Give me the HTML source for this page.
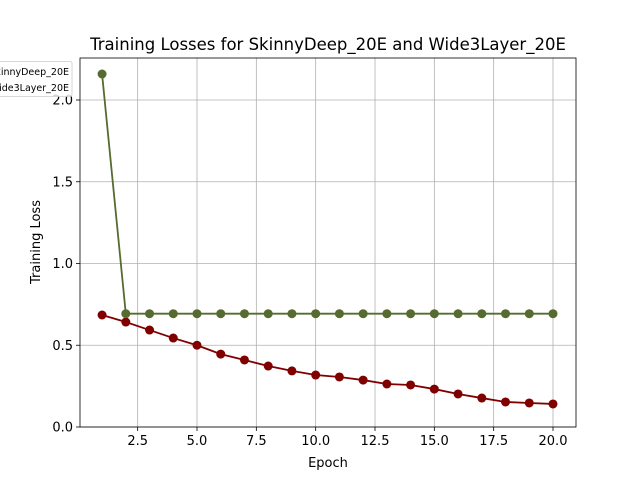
<!DOCTYPE html>
<html><head><meta charset="utf-8"><style>
body{margin:0;background:#fff}
svg{display:block;font-family:"DejaVu Sans","Liberation Sans",sans-serif}
</style></head><body>
<svg id="c" width="640" height="480" xmlns="http://www.w3.org/2000/svg"></svg>
<script>
const epochs=[1,2,3,4,5,6,7,8,9,10,11,12,13,14,15,16,17,18,19,20];
const skinnyLoss=[0.685,0.642,0.593,0.544,0.50,0.446,0.41,0.373,0.343,0.318,0.306,0.287,0.263,0.257,0.232,0.202,0.177,0.153,0.147,0.141];
const wideLoss=[2.159,0.693,0.693,0.693,0.693,0.693,0.693,0.693,0.693,0.693,0.693,0.693,0.693,0.693,0.693,0.693,0.693,0.693,0.693,0.693];
const xTicks=[2.5,5.0,7.5,10.0,12.5,15.0,17.5,20.0];
const yTicks=[0.0,0.5,1.0,1.5,2.0];
const NS="http://www.w3.org/2000/svg";
const svg=document.getElementById('c');
const L=80,R=576,T=58,B=427;
const xs=v=>197+(v-5)*(553-197)/15;
const ys=v=>427-v*163.5;
function mk(t,a,p){const e=document.createElementNS(NS,t);for(const k in a)e.setAttribute(k,a[k]);(p||svg).appendChild(e);return e;}
const grid=mk('g',{});


xTicks.forEach(v=>{const x=xs(v);
 mk('line',{x1:x,x2:x,y1:T,y2:B,stroke:'#b0b0b0','stroke-width':0.8},grid);
 mk('line',{x1:x,x2:x,y1:B,y2:B+4,stroke:'#000','stroke-width':0.8});
 const t=mk('text',{x:x,y:B+18,'text-anchor':'middle','font-size':13});t.textContent=v.toFixed(1);
 
 
});
yTicks.forEach(v=>{const y=ys(v);
 mk('line',{x1:L,x2:R,y1:y,y2:y,stroke:'#b0b0b0','stroke-width':0.8},grid);
 mk('line',{x1:L-4,x2:L,y1:y,y2:y,stroke:'#000','stroke-width':0.8});
 const t=mk('text',{x:L-7,y:y+4.5,'text-anchor':'end','font-size':13});t.textContent=v.toFixed(1);
 
 
});
function series(vals,color,name){
 const g=mk('g',{});
 
 
 mk('polyline',{points:epochs.map((e,i)=>xs(e)+','+ys(vals[i])).join(' '),fill:'none',stroke:color,'stroke-width':1.8},g);
 epochs.forEach((e,i)=>{const c=mk('circle',{cx:xs(e),cy:ys(vals[i]),r:4.5,fill:color},g);
  
  });
}
series(skinnyLoss,'#800000','skinnydeep-series');
series(wideLoss,'#556b2f','wide3layer-series');
const fr=mk('rect',{x:L,y:T,width:R-L,height:B-T,fill:'none',stroke:'#000','stroke-width':0.8});


</script>
<svg style="position:absolute;left:0;top:0" width="640" height="480" xmlns="http://www.w3.org/2000/svg">
<text x="328" y="50" text-anchor="middle" font-size="16.5">Training Losses for SkinnyDeep_20E and Wide3Layer_20E</text>
<text x="328" y="467" text-anchor="middle" font-size="13">Epoch</text>
<text x="40" y="242" text-anchor="middle" font-size="13" transform="rotate(-90 40 242)">Training Loss</text>
<g>
<rect x="-10" y="61.5" width="82" height="35" rx="2" fill="#fff" fill-opacity="0.8" stroke="#ccc" stroke-width="0.8"/>
<text x="69" y="75" text-anchor="end" font-size="9.5">SkinnyDeep_20E</text>
<text x="69" y="91" text-anchor="end" font-size="9.5">Wide3Layer_20E</text>
</g>
</svg>
</body></html>
